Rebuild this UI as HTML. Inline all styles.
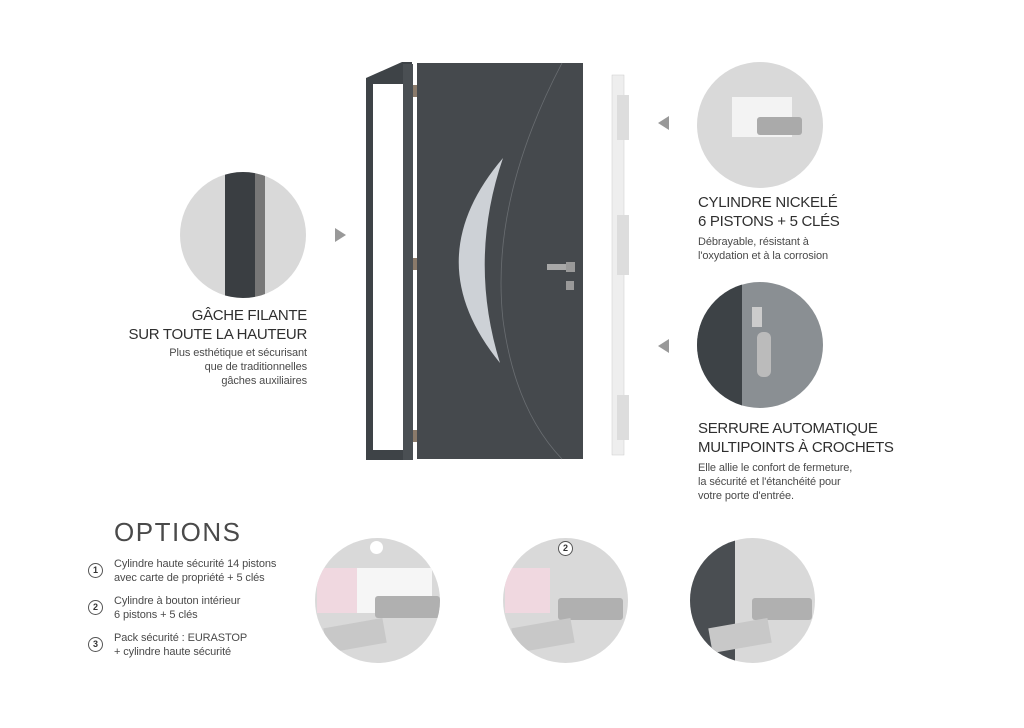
<!DOCTYPE html>
<html><head><meta charset="utf-8"><style>
body{margin:0;width:1024px;height:728px;background:#fff;position:relative;overflow:hidden;font-family:"Liberation Sans",sans-serif;color:#3a3a3a}
.a{position:absolute}
.c{position:absolute;border-radius:50%;background:#d9d9d9;overflow:hidden}
.h{font-size:15px;line-height:19px;color:#2f2f2f;letter-spacing:-0.3px}
.t{font-size:11px;line-height:14px;color:#4a4a4a;letter-spacing:-0.1px}
.tri{position:absolute;width:0;height:0;border-top:7px solid transparent;border-bottom:7px solid transparent}
.num{position:absolute;width:13px;height:13px;border:1px solid #555;border-radius:50%;font-size:9px;font-weight:bold;text-align:center;line-height:13px;color:#333;background:#fff}
</style></head><body>

<svg class="a" style="left:0;top:0" width="1024" height="728">
  <polygon points="366,78 402,62 412,62 412,460 366,460" fill="#3e4347"/>
  <rect x="373" y="84" width="30" height="366" fill="#fff"/>
  <rect x="403" y="64" width="10" height="396" fill="#4a4f53"/>
  <rect x="413" y="85" width="4" height="12" fill="#8a7a6a"/>
  <rect x="413" y="258" width="4" height="12" fill="#8a7a6a"/>
  <rect x="413" y="430" width="4" height="12" fill="#8a7a6a"/>
  <rect x="417" y="63" width="166" height="396" fill="#45494d"/>
  <path d="M562,63 Q490,200 503,320 Q515,410 562,459" fill="none" stroke="#6a6e72" stroke-width="0.8"/>
  <path d="M503,158 Q416,260 500,363 Q468,260 503,158Z" fill="#cdd1d6"/>
  <rect x="547" y="264" width="28" height="6" fill="#a8a8a8"/>
  <rect x="566" y="262" width="9" height="10" fill="#999"/>
  <rect x="566" y="281" width="8" height="9" fill="#999"/>
  <rect x="612" y="75" width="12" height="380" fill="#eeeeee" stroke="#ccc" stroke-width="0.5"/>
  <rect x="617" y="95" width="12" height="45" fill="#ddd"/>
  <rect x="617" y="215" width="12" height="60" fill="#ddd"/>
  <rect x="617" y="395" width="12" height="45" fill="#ddd"/>
</svg>

<div class="c" style="left:180px;top:172px;width:126px;height:126px"><div class="a" style="left:45px;top:0;width:30px;height:126px;background:#3a3e42"></div><div class="a" style="left:75px;top:0;width:10px;height:126px;background:#777"></div></div>
<div class="tri" style="left:335px;top:228px;border-left:11px solid #999"></div>
<div class="a h" style="right:717px;top:306px;text-align:right">GÂCHE FILANTE<br>SUR TOUTE LA HAUTEUR</div>
<div class="a t" style="right:717px;top:346px;text-align:right">Plus esthétique et sécurisant<br>que de traditionnelles<br>gâches auxiliaires</div>

<div class="c" style="left:697px;top:62px;width:126px;height:126px"><div class="a" style="left:35px;top:35px;width:60px;height:40px;background:#f3f3f3"></div><div class="a" style="left:60px;top:55px;width:45px;height:18px;background:#aaa;border-radius:3px"></div></div>
<div class="tri" style="left:658px;top:116px;border-right:11px solid #999"></div>
<div class="a h" style="left:698px;top:193px">CYLINDRE NICKELÉ<br>6 PISTONS + 5 CLÉS</div>
<div class="a t" style="left:698px;top:235px">Débrayable, résistant à<br>l'oxydation et à la corrosion</div>

<div class="c" style="left:697px;top:282px;width:126px;height:126px;background:#8a8f93"><div class="a" style="left:0;top:0;width:45px;height:126px;background:#3d4246"></div><div class="a" style="left:55px;top:25px;width:10px;height:20px;background:#ccc"></div><div class="a" style="left:60px;top:50px;width:14px;height:45px;background:#bbb;border-radius:6px"></div></div>
<div class="tri" style="left:658px;top:339px;border-right:11px solid #999"></div>
<div class="a h" style="left:698px;top:419px">SERRURE AUTOMATIQUE<br>MULTIPOINTS À CROCHETS</div>
<div class="a t" style="left:698px;top:461px">Elle allie le confort de fermeture,<br>la sécurité et l'étanchéité pour<br>votre porte d'entrée.</div>

<div class="a" style="left:114px;top:517px;font-size:26px;letter-spacing:1.5px;color:#4a4a4a">OPTIONS</div>
<div class="num" style="left:88px;top:563px">1</div>
<div class="a t" style="left:114px;top:557px">Cylindre haute sécurité 14 pistons<br>avec carte de propriété + 5 clés</div>
<div class="num" style="left:88px;top:600px">2</div>
<div class="a t" style="left:114px;top:594px">Cylindre à bouton intérieur<br>6 pistons + 5 clés</div>
<div class="num" style="left:88px;top:637px">3</div>
<div class="a t" style="left:114px;top:631px">Pack sécurité : EURASTOP<br>+ cylindre haute sécurité</div>

<div class="c" style="left:315px;top:538px;width:125px;height:125px"><div class="a" style="left:2px;top:30px;width:40px;height:45px;background:#f0d8e0"></div><div class="a" style="left:42px;top:30px;width:75px;height:45px;background:#f6f6f6"></div><div class="a" style="left:60px;top:58px;width:65px;height:22px;background:#b0b0b0;border-radius:3px"></div><div class="a" style="left:10px;top:85px;width:60px;height:25px;background:#c8c8c8;transform:rotate(-10deg)"></div></div>
<div class="num" style="left:370px;top:541px;border:none;background:#fff"></div>
<div class="c" style="left:503px;top:538px;width:125px;height:125px"><div class="a" style="left:2px;top:30px;width:45px;height:45px;background:#f0d8e0"></div><div class="a" style="left:55px;top:60px;width:65px;height:22px;background:#b0b0b0;border-radius:3px"></div><div class="a" style="left:10px;top:85px;width:60px;height:25px;background:#c8c8c8;transform:rotate(-10deg)"></div></div>
<div class="num" style="left:558px;top:541px">2</div>
<div class="c" style="left:690px;top:538px;width:125px;height:125px"><div class="a" style="left:0;top:0;width:45px;height:125px;background:#4a4e52"></div><div class="a" style="left:62px;top:60px;width:60px;height:22px;background:#b0b0b0;border-radius:3px"></div><div class="a" style="left:20px;top:85px;width:60px;height:25px;background:#c8c8c8;transform:rotate(-10deg)"></div></div>
</body></html>
